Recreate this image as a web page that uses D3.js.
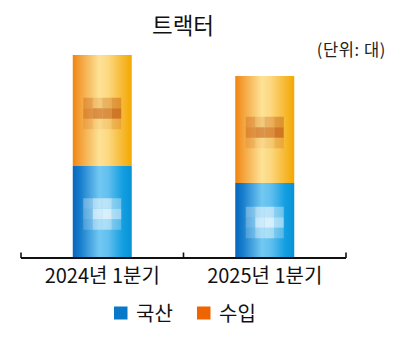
<!DOCTYPE html>
<html><head><meta charset="utf-8">
<script src="https://cdn.jsdelivr.net/npm/d3@7/dist/d3.min.js"></script>
<style>body{margin:0;background:#fff}svg{display:block}</style>
</head><body>
<svg id="c" width="400" height="342"></svg>
<script>
const categories = ["2024년 1분기", "2025년 1분기"];
const seriesNames = ["국산", "수입"];
const domestic = [920, 750];
const imported = [1110, 1070];
const title = "트랙터";
const unit = "(단위: 대)";

const svg = d3.select("#c");
const font = "'Noto Sans CJK KR', 'Noto Sans', sans-serif";
const x = d3.scaleBand().domain(categories).range([21, 346]).paddingInner(0).paddingOuter(0);
const y = d3.scaleLinear().domain([0, 2030]).range([258, 55]);
const barW = x.bandwidth() * 0.363;

const defs = svg.append("defs");
function grad(id, stops) {
  const g = defs.append("linearGradient").attr("id", id).attr("x1", "0%").attr("x2", "100%").attr("y1", "0").attr("y2", "0");
  stops.forEach(s => g.append("stop").attr("offset", s[0]).attr("stop-color", s[1]));
}
grad("gBlue", [["0%", "#0766bc"], ["12%", "#157ccb"], ["45%", "#72c8f2"], ["60%", "#62c0ef"], ["85%", "#129ee0"], ["100%", "#0892d6"]]);
grad("gOrange", [["0%", "#f08410"], ["15%", "#f4a640"], ["45%", "#fde296"], ["60%", "#fcd880"], ["85%", "#f6b830"], ["100%", "#f4a800"]]);

const data = categories.map((c, i) => ({ c, d: domestic[i], m: imported[i] }));

const g = svg.append("g");
data.forEach(r => {
  const cx = x(r.c) + x.bandwidth() / 2;
  g.append("rect").attr("x", cx - barW / 2).attr("width", barW)
    .attr("y", y(r.d)).attr("height", y(0) - y(r.d)).attr("fill", "url(#gBlue)");
  g.append("rect").attr("x", cx - barW / 2).attr("width", barW)
    .attr("y", y(r.d + r.m)).attr("height", y(r.d) - y(r.d + r.m)).attr("fill", "url(#gOrange)");
});

// mosaic (pixelated value labels)
const orangeMos = [[0.4, 0.2, 0.35, 0.5], [0.55, 0.65, 0.65, 0.85], [0.2, 0.08, 0.12, 0.25]];
const blueMos = [[0.3, 0.5, 0.55, 0.35], [0.25, 0.65, 0.75, 0.55], [0.18, 0.4, 0.45, 0.25]];
function mosaic(cx, cy, pat, color) {
  const cw = 9.5, ch = 10.5;
  const cols = pat[0].length, rows = pat.length;
  const x0 = cx - cols * cw / 2, y0 = cy - rows * ch / 2;
  pat.forEach((row, ri) => row.forEach((o, ci) => {
    g.append("rect").attr("x", x0 + ci * cw).attr("y", y0 + ri * ch)
      .attr("width", cw).attr("height", ch).attr("fill", color).attr("opacity", o);
  }));
}
data.forEach(r => {
  const cx = x(r.c) + x.bandwidth() / 2;
  mosaic(cx, (y(r.d) + y(r.d + r.m)) / 2 + 3, orangeMos, "#c8681e");
  mosaic(cx, (y(0) + y(r.d)) / 2 + 2, blueMos, "#ffffff");
});

// axis
const ax = svg.append("g");
ax.append("line").attr("x1", 21).attr("x2", 346).attr("y1", 258).attr("y2", 258)
  .attr("stroke", "#111").attr("stroke-width", 1.8);
const tickXs = categories.map(c => x(c)).concat([x(categories[categories.length - 1]) + x.bandwidth()]);
tickXs.forEach(tx => ax.append("line").attr("x1", tx).attr("x2", tx).attr("y1", 258).attr("y2", 252.5)
  .attr("stroke", "#111").attr("stroke-width", 1.6));
categories.forEach(c => ax.append("text").attr("x", x(c) + x.bandwidth() / 2).attr("y", 283)
  .attr("text-anchor", "middle").attr("font-family", font).attr("font-size", 20).attr("fill", "#111").text(c));

// title & unit
svg.append("text").attr("x", 183).attr("y", 33.5).attr("text-anchor", "middle")
  .attr("font-family", font).attr("font-size", 22.5).attr("font-weight", 400).attr("fill", "#111").text(title);
svg.append("text").attr("x", 386).attr("y", 56).attr("text-anchor", "end")
  .attr("font-family", font).attr("font-size", 16.5).attr("letter-spacing", 0.6).attr("fill", "#222").text(unit);

// legend
const colors = ["#0a78c8", "#f06400"];
const lg = svg.append("g");
const lx = [114, 197];
seriesNames.forEach((s, i) => {
  lg.append("rect").attr("x", lx[i]).attr("y", 306.5).attr("width", 13.5).attr("height", 13).attr("fill", colors[i]);
  lg.append("text").attr("x", lx[i] + 22).attr("y", 320.5).attr("font-family", font).attr("font-size", 20)
    .attr("fill", "#111").text(s);
});
</script>
</body></html>
